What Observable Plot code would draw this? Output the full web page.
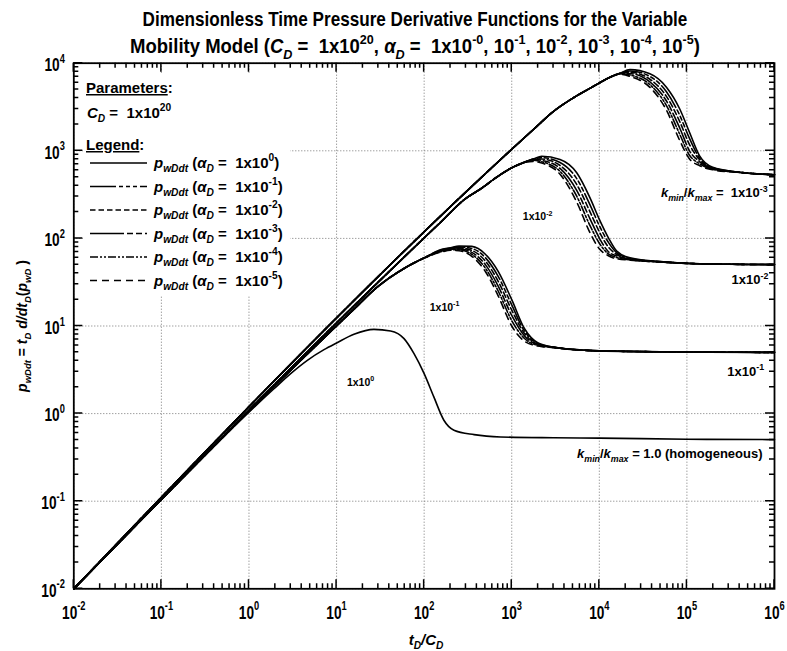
<!DOCTYPE html>
<html><head><meta charset="utf-8">
<script src="https://cdn.jsdelivr.net/npm/d3@7"></script>
<script src="https://cdn.jsdelivr.net/npm/@observablehq/plot@0.6"></script>
<style>
body{margin:0;background:#fff}
#wrap{position:relative;width:787px;height:651px;overflow:hidden;background:#fff}
#wrap svg{position:absolute;left:0;top:0}
#wrap text{white-space:pre}
</style>
</head><body><div id="wrap"></div>
<script>
// ---------- tick values and labels ----------
const xMajor = [1e-2, 1e-1, 1e0, 1e1, 1e2, 1e3, 1e4, 1e5, 1e6];
const xExp   = ["-2", "-1", "0", "1", "2", "3", "4", "5", "6"];
const yMajor = [1e-2, 1e-1, 1e0, 1e1, 1e2, 1e3, 1e4];
const yExp   = ["-2", "-1", "0", "1", "2", "3", "4"];
const minorMult = [2, 3, 4, 5, 6, 7, 8, 9];

// ---------- series: homogeneous (kmin/kmax = 1.0) ----------
const homX = [0.01, 1.93, 2.99, 4.64, 7.19, 10, 15.8, 26.7, 41.4, 58.9, 76.6, 100, 129, 168, 219, 372, 746, 3000, 10000, 100000, 1000000];
const homY = [0.01, 1.92, 2.86, 4.06, 5.37, 6.4, 8.04, 9.16, 8.77, 7.18, 4.84, 2.86, 1.55, 0.84, 0.646, 0.575, 0.541, 0.53, 0.525, 0.51, 0.505];

// ---------- kmin/kmax = 1e-1, alphaD = 1e0 .. 1e-5 ----------
const k1X = [0.01, 15, 30, 60, 100, 160, 200, 250, 350, 500, 700, 1000, 1400, 2000, 3000, 10000, 100000, 1000000];
const k1Y = [
  [0.01, 14.8, 28.5, 46, 60, 75, 78.3, 82, 81, 66, 42, 20, 9.3, 6.4, 5.75, 5.2, 5.05, 5.0],
  [0.01, 14.8, 28.5, 46, 60, 74, 77.4, 80, 76.7, 60.3, 36.9, 17.4, 8.7, 6.3, 5.73, 5.2, 5.05, 5.0],
  [0.01, 14.8, 28.5, 46, 60, 73.1, 76.4, 78, 72.9, 55.1, 32.4, 15.2, 8.2, 6.2, 5.71, 5.2, 5.05, 5.0],
  [0.01, 14.8, 28.5, 45.8, 59.8, 72.1, 75.5, 76, 69.2, 50.2, 28.6, 13.2, 7.7, 6.1, 5.7, 5.2, 5.05, 5.0],
  [0.01, 14.8, 28.4, 45.7, 59.6, 71.3, 74.5, 74.1, 65.8, 45.8, 25.1, 11.5, 7.2, 6.0, 5.68, 5.2, 5.05, 5.0],
  [0.01, 14.8, 28.4, 45.6, 59.4, 70.3, 73.1, 72.3, 62.5, 41.9, 22.1, 10.0, 6.7, 5.9, 5.66, 5.2, 5.05, 5.0]
];

// ---------- kmin/kmax = 1e-2 ----------
const k2X = [0.01, 150, 300, 434, 700, 1000, 1420, 1750, 2200, 3560, 5520, 7830, 10000, 12700, 15800, 22400, 53700, 141000, 1000000];
const k2Y = [
  [0.01, 149, 287, 364, 515, 640, 748, 802, 865, 795, 561, 290, 165, 101.6, 71.6, 60, 54, 51.3, 50.2],
  [0.01, 149, 287, 364, 515, 640, 746, 802, 835, 735, 481, 241, 140, 90, 68.5, 59, 54, 51.3, 50.2],
  [0.01, 149, 287, 363, 514, 640, 744, 802, 805, 680, 413, 201, 119, 79.6, 65.5, 58.2, 53.8, 51.3, 50.2],
  [0.01, 149, 287, 363, 513, 639, 742, 800, 778, 630, 354, 167, 101, 70.5, 63, 57.6, 53.7, 51.3, 50.2],
  [0.01, 149, 286, 362, 512, 638, 740, 782, 750, 582, 303, 140, 88, 66.4, 60.5, 57, 53.6, 51.3, 50.2],
  [0.01, 149, 286, 362, 511, 637, 738, 755, 724, 539, 260, 116, 76, 63.4, 58.5, 56.5, 53.5, 51.3, 50.2]
];

// ---------- kmin/kmax = 1e-3 ----------
const k3X = [0.01, 1800, 3000, 5000, 7900, 10000, 13300, 17000, 22400, 37800, 58400, 82600, 107000, 139000, 197000, 395000, 1000000];
const k3Y = [
  [0.01, 1780, 2820, 4000, 5200, 5950, 6950, 7620, 8450, 7570, 5320, 3020, 1630, 883, 650, 570, 532],
  [0.01, 1780, 2820, 4000, 5200, 5950, 6940, 7620, 8155, 7050, 4717, 2557, 1385, 830, 641, 570, 532],
  [0.01, 1780, 2820, 4000, 5200, 5950, 6930, 7620, 7870, 6560, 4180, 2166, 1178, 794, 632, 569, 532],
  [0.01, 1780, 2820, 4000, 5200, 5950, 6920, 7610, 7595, 6110, 3705, 1835, 1000, 754, 624, 568, 532],
  [0.01, 1780, 2820, 4000, 5200, 5950, 6900, 7600, 7330, 5690, 3283, 1555, 891, 714, 615, 567, 532],
  [0.01, 1780, 2820, 4000, 5200, 5950, 6880, 7500, 7070, 5300, 2910, 1318, 807, 678, 607, 566, 532]
];

// ---------- legend / annotations ----------
const alphaExp = ["0", "-1", "-2", "-3", "-4", "-5"];
const dashes = [null, "26,3,4,3,4,3,4,3", "5.5,3", "34,3,6,3,6,3", "8,2,2,2,2,2", "7,5"];
const annoSmallText = ["1x10^{0}", "1x10^{-1}", "1x10^{-2}"];
const annoSmallX = [18.8, 171, 1976];
const annoSmallY = [2.28, 16.3, 175];
const annoText = ["~k_{min}~/~k_{max}~ =  1x10^{-3}", "1x10^{-2}", "1x10^{-1}", "~k_{min}~/~k_{max}~ = 1.0 (homogeneous)"];
const annoX = [834000, 851000, 760000, 730000];
const annoY = [327, 33.3, 2.98, 0.343];

const FONT = '"Liberation Sans", Arial, Helvetica, sans-serif';

// ---------- rich text (sub/sup/italic/underline) ----------
const NS = "http://www.w3.org/2000/svg";
function richify(el) {
  const src = el.textContent;
  if (!/[~^_|]/.test(src)) return;
  const fs = parseFloat(getComputedStyle(el).fontSize) || 12;
  while (el.firstChild) el.removeChild(el.firstChild);
  let italic = false, under = false, cur = 0, i = 0, buf = "";
  const add = (txt, level) => {
    if (!txt) return;
    const t = document.createElementNS(NS, "tspan");
    const target = level === 1 ? -0.45 * fs : level === -1 ? 0.28 * fs : 0;
    if (target !== cur) { t.setAttribute("dy", (target - cur).toFixed(2)); cur = target; }
    if (level) t.setAttribute("font-size", (0.68 * fs).toFixed(2));
    if (italic) t.setAttribute("font-style", "italic");
    if (under) t.setAttribute("text-decoration", "underline");
    t.textContent = txt;
    el.appendChild(t);
  };
  while (i < src.length) {
    const c = src[i];
    if (c === "~") { add(buf, 0); buf = ""; italic = !italic; i++; }
    else if (c === "|") { add(buf, 0); buf = ""; under = !under; i++; }
    else if ((c === "^" || c === "_") && src[i + 1] === "{") {
      add(buf, 0); buf = "";
      const j = src.indexOf("}", i + 2);
      add(src.slice(i + 2, j), c === "^" ? 1 : -1);
      i = j + 1;
    } else { buf += c; i++; }
  }
  add(buf, 0);
}
function squeeze(el, f) {
  const x = +el.getAttribute("x") || 0, y = +el.getAttribute("y") || 0;
  const tr = el.getAttribute("transform") || "";
  el.setAttribute("transform", `${tr} translate(${x},${y}) scale(${f.toFixed(4)},1) translate(${-x},${-y})`);
}

// ---------- build ----------
const rows = (X, Y) => X.map((x, i) => ({x, y: Y[i]}));
const xMinor = [], yMinor = [];
xMajor.slice(0, -1).forEach(d => minorMult.forEach(m => xMinor.push(d * m)));
yMajor.slice(0, -1).forEach(d => minorMult.forEach(m => yMinor.push(d * m)));

const W = 787, H = 651, ML = 73.3, MR = 13, MT = 62.7, MB = 62.7;

const lineOpts = j => ({x: "x", y: "y", curve: "monotone-x", stroke: "#000", strokeWidth: 1.6,
  strokeDasharray: dashes[j] || undefined});

const curveMarks = [];
curveMarks.push(Plot.line(rows(homX, homY), lineOpts(0)));
for (const [X, Y] of [[k1X, k1Y], [k2X, k2Y], [k3X, k3Y]]) {
  for (let j = 5; j >= 0; j--) curveMarks.push(Plot.line(rows(X, Y[j]), lineOpts(j)));
}

const tickRowsX = [], tickRowsY = [];
for (const [vals, size] of [[xMajor, 9], [xMinor, 5]]) vals.forEach(v => tickRowsX.push({v, size}));
for (const [vals, size] of [[yMajor, 9], [yMinor, 5]]) vals.forEach(v => tickRowsY.push({v, size}));

const chart = Plot.plot({
  width: W, height: H,
  marginLeft: ML, marginRight: MR, marginTop: MT, marginBottom: MB,
  style: {fontFamily: FONT, background: "transparent", color: "#000", overflow: "visible"},
  x: {type: "log", domain: [1e-2, 1e6]},
  y: {type: "log", domain: [1e-2, 1e4]},
  marks: [
    Plot.gridX(xMajor, {stroke: "#777", strokeOpacity: 1, strokeDasharray: "1,2", strokeWidth: 1}),
    Plot.gridY(yMajor, {stroke: "#777", strokeOpacity: 1, strokeDasharray: "1,2", strokeWidth: 1}),
    ...curveMarks,
    Plot.frame({stroke: "#000", strokeWidth: 1.8}),
    Plot.axisX(xMajor, {anchor: "bottom", tickSize: 0, tickPadding: 17, label: null,
      tickFormat: d => "10^{" + xExp[xMajor.indexOf(d)] + "}", fontSize: 18, fontWeight: "bold"}),
    Plot.axisY(yMajor, {anchor: "left", tickSize: 0, tickPadding: 9, label: null, dy: 2,
      tickFormat: d => "10^{" + yExp[yMajor.indexOf(d)] + "}", fontSize: 18, fontWeight: "bold"}),
    Plot.text(annoSmallText, {x: (d, i) => annoSmallX[i], y: (d, i) => annoSmallY[i], text: d => d,
      fontSize: 10.5, fontWeight: "bold", textAnchor: "middle", lineAnchor: "middle"}),
    Plot.text(annoText, {x: (d, i) => annoX[i], y: (d, i) => annoY[i], text: d => d,
      fontSize: 13, fontWeight: "bold", textAnchor: "end", lineAnchor: "middle"})
  ]
});
const wrap = document.getElementById("wrap");
wrap.appendChild(chart);
chart.querySelectorAll("text").forEach(richify);
chart.querySelectorAll('g[aria-label="x-axis tick label"] text, g[aria-label="y-axis tick label"] text')
  .forEach(el => squeeze(el, 0.76));

// ---------- overlay ----------
const ov = d3.select(wrap).append("svg").attr("width", W).attr("height", H)
  .attr("font-family", FONT).attr("font-weight", "bold").attr("fill", "#000");

// inward ticks placed with Plot's own scales
const sx = chart.scale("x"), sy = chart.scale("y");
const L = ML, R = W - MR, T = MT, B = H - MB;
const tickPath = [];
tickRowsX.forEach(({v, size}) => {
  const px = sx.apply(v);
  tickPath.push(`M${px},${B}V${B - size}`, `M${px},${T}V${T + size}`);
});
tickRowsY.forEach(({v, size}) => {
  const py = sy.apply(v);
  tickPath.push(`M${L},${py}H${L + size}`, `M${R},${py}H${R - size}`);
});
ov.append("path").attr("d", tickPath.join("")).attr("fill", "none").attr("stroke", "#000").attr("stroke-width", 1.5);

const t1 = ov.append("text").attr("x", 415).attr("y", 26).attr("text-anchor", "middle").attr("font-size", 20)
  .text("Dimensionless Time Pressure Derivative Functions for the Variable");
const t2 = ov.append("text").attr("x", 415).attr("y", 53).attr("text-anchor", "middle").attr("font-size", 20)
  .text("Mobility Model (~C_{D}~ =  1x10^{20}, ~α_{D}~ =  1x10^{-0}, 10^{-1}, 10^{-2}, 10^{-3}, 10^{-4}, 10^{-5})");

ov.append("text").attr("x", 426).attr("y", 645).attr("text-anchor", "middle").attr("font-size", 15)
  .text("~t_{D}/C_{D}~");
ov.append("text").attr("transform", "translate(27,326) rotate(-90)").attr("text-anchor", "middle").attr("font-size", 14)
  .text("~p_{wDdt}~ = ~t_{D} d/dt_{D}~(~p_{wD}~ )");

ov.append("rect").attr("x", 83).attr("y", 73).attr("width", 207).attr("height", 223).attr("fill", "#fff");
ov.append("text").attr("x", 86).attr("y", 93).attr("font-size", 15).text("|Parameters|:");
ov.append("text").attr("x", 87).attr("y", 118).attr("font-size", 15).text("~C_{D}~ =  1x10^{20}");
ov.append("text").attr("x", 86).attr("y", 150).attr("font-size", 15).text("|Legend|:");
const rowY = [163, 186.5, 210, 233.5, 257, 280.5];
alphaExp.forEach((e, j) => {
  ov.append("line").attr("x1", 90).attr("x2", 147).attr("y1", rowY[j]).attr("y2", rowY[j])
    .attr("stroke", "#000").attr("stroke-width", 1.6).attr("stroke-dasharray", dashes[j]);
  ov.append("text").attr("x", 154).attr("y", rowY[j] + 5).attr("font-size", 15)
    .text("~p_{wDdt}~ (~α_{D}~ =  1x10^{" + e + "})");
});
ov.selectAll("text").each(function() { richify(this); });
squeeze(t1.node(), 545 / t1.node().getComputedTextLength());
squeeze(t2.node(), 570 / t2.node().getComputedTextLength());
</script></body></html>
